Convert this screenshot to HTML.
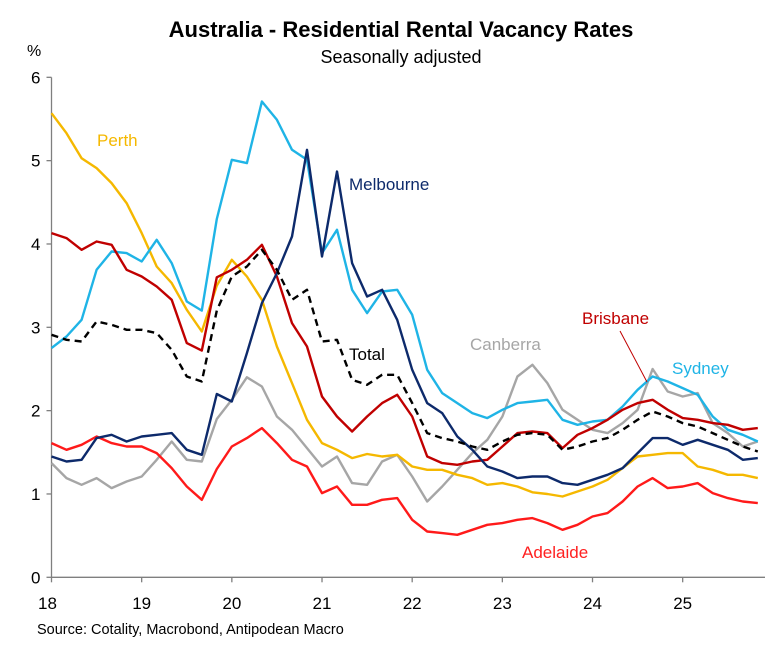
<!DOCTYPE html>
<html><head><meta charset="utf-8"><style>
body{margin:0;background:#fff;}
svg{display:block;font-family:"Liberation Sans",Arial,sans-serif;}
</style></head><body>
<svg id="chart" width="771" height="648" viewBox="0 0 771 648" xmlns="http://www.w3.org/2000/svg">
<text x="401" y="37" text-anchor="middle" font-size="22" font-weight="bold">Australia - Residential Rental Vacancy Rates</text>
<text x="401" y="63" text-anchor="middle" font-size="18">Seasonally adjusted</text>
<text x="27" y="56" font-size="16">%</text>
<g id="axes"></g>
<g id="series"></g>
<g id="labels">
<text x="97" y="146" font-size="17" fill="#f5b800">Perth</text>
<text x="349" y="190" font-size="17" fill="#0d2a6b">Melbourne</text>
<text x="349" y="360" font-size="17" fill="#000">Total</text>
<text x="470" y="350" font-size="17" fill="#a6a6a6">Canberra</text>
<text x="582" y="324" font-size="17" fill="#c00000">Brisbane</text>
<line x1="620" y1="331" x2="647" y2="382" stroke="#c00000" stroke-width="1"/>
<text x="672" y="374" font-size="17" fill="#1fb4e6">Sydney</text>
<text x="522" y="558" font-size="17" fill="#ff2020">Adelaide</text>
</g>
<text x="37" y="634" font-size="14.5">Source: Cotality, Macrobond, Antipodean Macro</text>
</svg>
<script>
const yTicks = [0,1,2,3,4,5,6];
const xTicks = [18,19,20,21,22,23,24,25];
const startYear = 18;
const stepYears = 1/6;
const perth = [5.57,5.33,5.03,4.91,4.73,4.49,4.13,3.73,3.53,3.21,2.95,3.5,3.81,3.61,3.33,2.77,2.33,1.89,1.61,1.53,1.43,1.48,1.45,1.47,1.33,1.29,1.29,1.23,1.19,1.11,1.13,1.09,1.02,1.0,0.97,1.03,1.09,1.17,1.31,1.45,1.47,1.49,1.49,1.33,1.29,1.23,1.23,1.19];
const sydney = [2.75,2.89,3.09,3.69,3.91,3.89,3.79,4.05,3.77,3.31,3.2,4.3,5.01,4.97,5.71,5.49,5.13,5.01,3.89,4.17,3.45,3.17,3.43,3.45,3.15,2.49,2.21,2.09,1.97,1.91,2.01,2.09,2.11,2.13,1.89,1.83,1.87,1.89,2.05,2.25,2.41,2.35,2.27,2.19,1.93,1.77,1.71,1.63];
const melbourne = [1.45,1.39,1.41,1.67,1.71,1.63,1.69,1.71,1.73,1.53,1.47,2.2,2.11,2.69,3.29,3.65,4.09,5.13,3.85,4.87,3.77,3.37,3.45,3.09,2.49,2.09,1.97,1.69,1.53,1.33,1.27,1.19,1.21,1.21,1.13,1.11,1.17,1.23,1.31,1.49,1.67,1.67,1.59,1.65,1.59,1.53,1.41,1.43];
const brisbane = [4.13,4.07,3.93,4.03,3.99,3.69,3.61,3.49,3.33,2.81,2.72,3.6,3.69,3.81,3.99,3.61,3.05,2.77,2.17,1.93,1.75,1.93,2.09,2.19,1.93,1.45,1.37,1.35,1.39,1.41,1.57,1.73,1.75,1.73,1.55,1.71,1.79,1.89,2.01,2.09,2.13,2.01,1.91,1.89,1.85,1.83,1.77,1.79];
const total = [2.91,2.85,2.83,3.07,3.03,2.97,2.97,2.93,2.73,2.41,2.35,3.2,3.61,3.73,3.93,3.69,3.33,3.45,2.83,2.85,2.37,2.31,2.43,2.43,2.09,1.73,1.67,1.63,1.57,1.53,1.63,1.71,1.73,1.71,1.53,1.57,1.63,1.67,1.77,1.89,1.99,1.93,1.85,1.81,1.73,1.65,1.57,1.51];
const canberra = [1.37,1.19,1.11,1.19,1.07,1.15,1.21,1.41,1.63,1.41,1.39,1.9,2.13,2.4,2.29,1.93,1.77,1.55,1.33,1.45,1.13,1.11,1.39,1.47,1.21,0.91,1.09,1.29,1.49,1.65,1.93,2.41,2.55,2.33,2.01,1.89,1.77,1.73,1.85,2.01,2.5,2.23,2.17,2.21,1.85,1.73,1.57,1.63];
const adelaide = [1.61,1.53,1.59,1.69,1.61,1.57,1.57,1.49,1.31,1.09,0.93,1.3,1.57,1.67,1.79,1.61,1.41,1.33,1.01,1.09,0.87,0.87,0.93,0.95,0.69,0.55,0.53,0.51,0.57,0.63,0.65,0.69,0.71,0.65,0.57,0.63,0.73,0.77,0.91,1.09,1.19,1.07,1.09,1.13,1.01,0.95,0.91,0.89];

const NS = "http://www.w3.org/2000/svg";
const X0 = 51.5, XPY = 90.17, Y0 = 577.3, YPU = 83.33, XR = 765;
function xs(yr){ return X0 + (yr - 18) * XPY; }
function ys(v){ return Y0 - v * YPU; }
function mk(tag, attrs, parent){ const e = document.createElementNS(NS, tag); for (const k in attrs) e.setAttribute(k, attrs[k]); parent.appendChild(e); return e; }

const axes = document.getElementById('axes');
const yAxis = mk('line', {x1:X0,y1:ys(6),x2:X0,y2:Y0,stroke:'#7f7f7f','stroke-width':1.3}, axes);


const xAxis = mk('line', {x1:X0,y1:Y0,x2:XR,y2:Y0,stroke:'#7f7f7f','stroke-width':1.3}, axes);


yTicks.forEach(v => {
  const t = mk('line', {x1:X0-5,y1:ys(v),x2:X0,y2:ys(v),stroke:'#7f7f7f','stroke-width':1.3}, axes);
  
  
  const l = mk('text', {x:X0-11,y:ys(v)+6,'text-anchor':'end','font-size':17}, axes);
  l.textContent = v;
  
  
});
xTicks.forEach((v,i) => {
  const t = mk('line', {x1:xs(v),y1:Y0,x2:xs(v),y2:Y0+5,stroke:'#7f7f7f','stroke-width':1.3}, axes);
  
  
  const l = mk('text', {x:xs(v)-(i===0?4:0),y:609,'text-anchor':'middle','font-size':17}, axes);
  l.textContent = v;
  
  
});

const seriesG = document.getElementById('series');
function line(data, color, name, dash){
  const pts = data.map((v,i) => xs(startYear + i*stepYears).toFixed(1) + ',' + ys(v).toFixed(1)).join(' ');
  const p = mk('polyline', {points:pts, fill:'none', stroke:color, 'stroke-width':2.4, 'stroke-linejoin':'round'}, seriesG);
  if (dash) p.setAttribute('stroke-dasharray', '7,5');
  
  
}
line(canberra, '#a6a6a6', 'canberra-line');
line(adelaide, '#ff1a1a', 'adelaide-line');
line(perth, '#f5b800', 'perth-line');
line(sydney, '#1fb4e6', 'sydney-line');
line(brisbane, '#c00000', 'brisbane-line');
line(melbourne, '#0d2a6b', 'melbourne-line');
line(total, '#000000', 'total-line', true);
</script>
</body></html>
